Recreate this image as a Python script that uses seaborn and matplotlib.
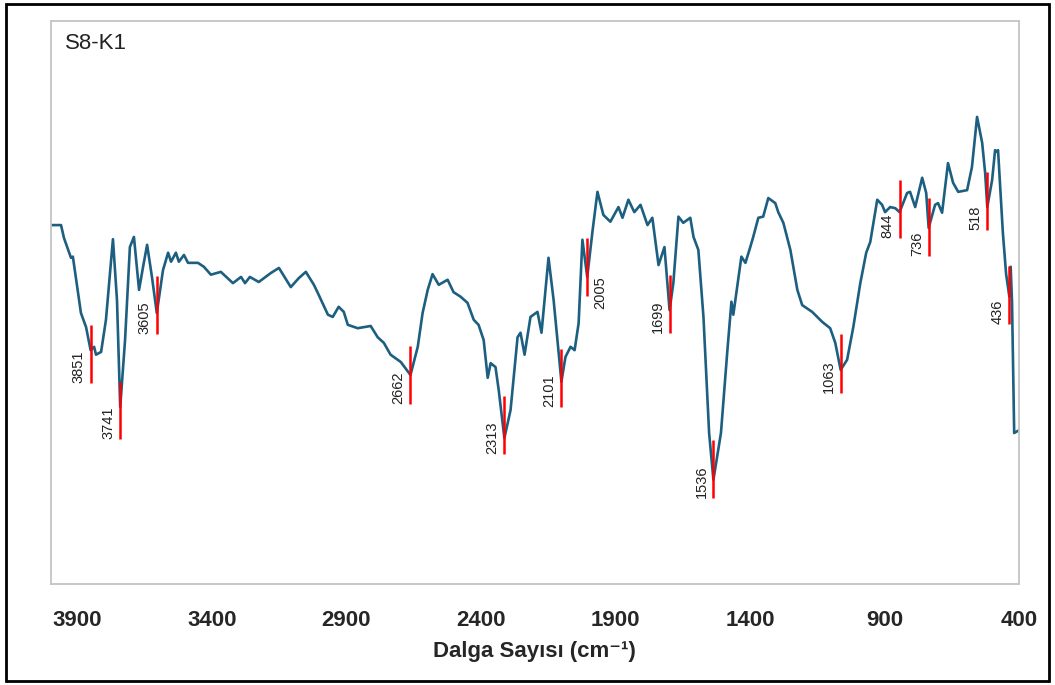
import numpy as np
import pandas as pd
import matplotlib
matplotlib.use("Agg")
import matplotlib.pyplot as plt
from matplotlib.patches import Rectangle
import seaborn as sns

# ── Spectrum ──────────────────────────────────────────────────────────
wavenumber = [
    4000, 3961, 3950, 3931, 3924, 3917, 3887, 3868, 3851, 3838, 3831, 3812,
    3794, 3768, 3753, 3741, 3723, 3705, 3690, 3671, 3656, 3641, 3623, 3605,
    3582, 3563, 3552, 3534, 3523, 3504, 3489, 3452, 3430, 3404, 3367, 3322,
    3292, 3277, 3259, 3226, 3181, 3151, 3107, 3077, 3051, 3021, 3003, 2969,
    2951, 2929, 2910, 2895, 2858, 2810, 2784, 2761, 2736, 2698, 2662, 2635,
    2617, 2598, 2580, 2557, 2524, 2502, 2476, 2450, 2427, 2409, 2390, 2375,
    2364, 2346, 2334, 2313, 2290, 2264, 2253, 2238, 2216, 2190, 2175, 2149,
    2130, 2101, 2086, 2067, 2052, 2037, 2023, 2005, 1985, 1967, 1945, 1919,
    1889, 1874, 1852, 1830, 1807, 1781, 1763, 1740, 1718, 1699, 1685, 1666,
    1648, 1622, 1610, 1592, 1573, 1552, 1536, 1508, 1484, 1469, 1462, 1432,
    1417, 1399, 1388, 1369, 1351, 1332, 1306, 1295, 1276, 1250, 1224, 1206,
    1169, 1150, 1131, 1102, 1083, 1063, 1039, 1016, 990, 968, 953, 927,
    909, 898, 879, 860, 844, 816, 805, 786, 760, 745, 736, 712,
    701, 686, 664, 645, 626, 593, 575, 556, 537, 526, 518, 500,
    489, 482, 478, 460, 448, 436, 431, 426, 418, 400,
]
transmittance = [
    63.7, 63.7, 61.4, 58.8, 57.9, 58.1, 48.1, 45.6, 41.5, 42.1, 40.7, 41.2,
    46.9, 61.2, 50.4, 31.4, 43.3, 59.8, 61.6, 52.2, 56.3, 60.2, 54.5, 48.1,
    55.7, 58.8, 57.2, 58.8, 57.2, 58.4, 57.0, 57.0, 56.3, 54.9, 55.4, 53.4,
    54.5, 53.4, 54.5, 53.6, 55.2, 56.1, 52.7, 54.3, 55.4, 53.1, 51.3, 47.8,
    47.4, 49.2, 48.3, 46.0, 45.4, 45.8, 43.8, 42.8, 40.7, 39.4, 37.1, 42.1,
    48.1, 52.2, 55.0, 53.1, 54.0, 51.8, 51.0, 49.9, 46.9, 46.0, 43.3, 36.6,
    39.2, 38.5, 34.4, 25.9, 30.9, 43.8, 44.6, 40.7, 47.4, 48.3, 44.6, 57.9,
    50.4, 35.9, 40.3, 42.1, 41.5, 46.3, 61.1, 54.5, 62.8, 69.6, 65.5, 64.3,
    66.9, 65.0, 68.2, 66.0, 67.3, 63.7, 65.0, 56.6, 59.8, 48.6, 53.4, 65.2,
    64.1, 65.0, 61.6, 59.3, 47.4, 26.8, 18.5, 26.8, 41.5, 50.1, 47.8, 58.1,
    57.0, 59.8, 61.6, 65.0, 65.2, 68.5, 67.6, 66.0, 64.1, 59.3, 52.2, 49.5,
    48.3, 47.4, 46.5, 45.4, 42.8, 38.0, 39.8, 45.6, 53.4, 58.8, 60.7, 68.2,
    67.3, 66.0, 66.9, 66.7, 66.0, 69.4, 69.6, 66.9, 72.1, 69.4, 63.2, 67.3,
    67.6, 65.9, 74.7, 71.2, 69.6, 69.9, 74.0, 82.9, 78.3, 73.0, 66.9, 71.7,
    77.0, 76.7, 77.0, 62.3, 55.0, 51.0, 56.3, 50.0, 26.8, 27.3,
]

# ── Marked peaks: red bar extents ─────────────────────────────────────
peaks = [3851, 3741, 3605, 2662, 2313, 2101, 2005, 1699, 1536, 1063, 844, 736, 518, 436]
bar_top = [46.0, 35.9, 54.7, 42.3, 33.4, 41.7, 61.4, 54.9, 25.6, 44.4, 71.7, 68.5, 73.1, 56.5]
bar_bottom = [35.7, 25.7, 44.4, 32.0, 23.1, 31.4, 51.1, 44.6, 15.3, 33.9, 61.4, 58.2, 62.8, 46.2]
label_right = [2005]   # labels drawn to the right of the bar

x_ticks = [3900, 3400, 2900, 2400, 1900, 1400, 900, 400]

df = pd.DataFrame({"wn": wavenumber, "T": transmittance})

sns.set_style("white")
plt.rcParams["font.family"] = ["Liberation Sans", "DejaVu Sans"]

fig = plt.figure(figsize=(10.55, 6.85), dpi=100)
ax = fig.add_axes([0.0479, 0.1474, 0.918, 0.8226])

sns.lineplot(data=df, x="wn", y="T", color="#1c5f80", linewidth=1.9,
             sort=False, ax=ax, solid_joinstyle="round", solid_capstyle="round")
ax.vlines(peaks, bar_bottom, bar_top, color="#ff0000", linewidth=1.8, zorder=3)

for p, b in zip(peaks, bar_bottom):
    if p in label_right:
        ax.annotate(str(p), (p, b), xytext=(4, 14), textcoords="offset points",
                    rotation=90, ha="left", va="top", fontsize=10.5, color="#222222")
    else:
        ax.annotate(str(p), (p, b), xytext=(-3.5, 0), textcoords="offset points",
                    rotation=90, ha="right", va="bottom", fontsize=10.5, color="#222222")

ax.set_xlim(4000, 400)
ax.set_ylim(0, 100)
ax.set_yticks([])
ax.set_xticks(x_ticks)
ax.set_xticklabels([str(t) for t in x_ticks], fontsize=16, fontweight="bold")
ax.tick_params(axis="x", length=0, pad=19)
ax.set_xlabel("Dalga Sayısı (cm⁻¹)", fontsize=16, fontweight="bold", labelpad=7)
ax.set_ylabel("")
for s in ax.spines.values():
    s.set_color("#c4c4c4")
    s.set_linewidth(1.3)

ax.text(0.015, 0.978, "S8-K1", transform=ax.transAxes, fontsize=16,
        ha="left", va="top", color="#222222")

# outer frame
fig.patches.append(Rectangle((6 / 1055, 4 / 685), 1043 / 1055, 677 / 685,
                             transform=fig.transFigure, fill=False,
                             edgecolor="black", linewidth=2))

fig.savefig("out.png", dpi=100)
